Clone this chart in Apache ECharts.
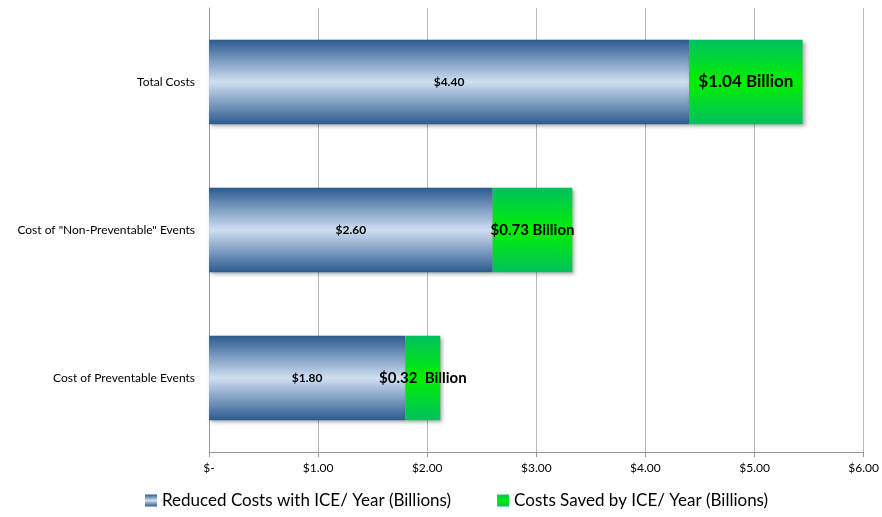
<!DOCTYPE html>
<html>
<head>
<meta charset="utf-8">
<script src="https://cdn.jsdelivr.net/npm/echarts@6/dist/echarts.min.js"></script>
<style>
  html, body { margin: 0; padding: 0; background: #fff; }
  #chart { width: 882px; height: 517px; }
</style>
</head>
<body>
<div id="chart"></div>
<script>
// Categories, bottom to top
const categories = ['Cost of Preventable Events', 'Cost of "Non-Preventable" Events', 'Total Costs'];
// Remaining cost per year with ICE (billions)
const reducedCosts = [1.80, 2.60, 4.40];
// Savings per year from ICE (billions)
const savedCosts = [0.32, 0.73, 1.04];
const savedLabels = ['$0.32  Billion', '$0.73 Billion', '$1.04 Billion'];
const savedLabelSizes = [15, 15, 17];
const xTicks = ['$-', '$1.00', '$2.00', '$3.00', '$4.00', '$5.00', '$6.00'];

const FONT = 'Lato, "Open Sans", sans-serif';

const blueGrad = new echarts.graphic.LinearGradient(0, 0, 0, 1, [
  { offset: 0, color: '#2c5b90' },
  { offset: 0.5, color: '#cfdff2' },
  { offset: 1, color: '#2c5b90' }
]);
const greenGrad = new echarts.graphic.LinearGradient(0, 0, 0, 1, [
  { offset: 0, color: '#00c060' },
  { offset: 0.5, color: '#00f000' },
  { offset: 1, color: '#00c060' }
]);

const chart = echarts.init(document.getElementById('chart'));
chart.setOption({
  animation: false,
  grid: { left: 209, right: 18, top: 8, bottom: 65, containLabel: false },
  legend: {
    bottom: 3,
    left: 140,
    itemGap: 46,
    itemWidth: 12,
    itemHeight: 12,
    icon: 'rect',
    textStyle: { fontFamily: FONT, fontSize: 17, color: '#000' },
    data: ['Reduced Costs with ICE/ Year (Billions)', 'Costs Saved by ICE/ Year (Billions)']
  },
  xAxis: {
    type: 'value',
    min: 0,
    max: 6,
    interval: 1,
    axisLine: { show: true, lineStyle: { color: '#999' } },
    axisTick: { show: true, length: 5, lineStyle: { color: '#999' } },
    splitLine: { show: true, lineStyle: { color: '#b8b8b8', width: 1 } },
    axisLabel: {
      fontFamily: FONT, fontSize: 12, color: '#000', margin: 10,
      formatter: (v) => xTicks[Math.round(v)]
    }
  },
  yAxis: {
    type: 'category',
    data: categories,
    axisLine: { show: true, lineStyle: { color: '#999' } },
    axisTick: { show: false },
    axisLabel: { fontFamily: FONT, fontSize: 12, color: '#000', margin: 14 }
  },
  series: [
    {
      name: 'Reduced Costs with ICE/ Year (Billions)',
      type: 'bar',
      stack: 'cost',
      barWidth: '57%',
      data: reducedCosts,
      itemStyle: {
        color: blueGrad,
        shadowBlur: 4, shadowColor: 'rgba(0,0,0,0.35)', shadowOffsetX: 2, shadowOffsetY: 2
      },
      label: {
        show: true, position: 'inside',
        fontFamily: FONT, fontSize: 12, fontWeight: 'bold', color: '#000',
        formatter: (p) => '$' + p.value.toFixed(2)
      }
    },
    {
      name: 'Costs Saved by ICE/ Year (Billions)',
      type: 'bar',
      stack: 'cost',
      barWidth: '57%',
      data: savedCosts.map((v, i) => ({
        value: v,
        label: { fontSize: savedLabelSizes[i] }
      })),
      itemStyle: {
        color: greenGrad,
        shadowBlur: 4, shadowColor: 'rgba(0,0,0,0.35)', shadowOffsetX: 2, shadowOffsetY: 2
      },
      label: {
        show: true, position: 'inside',
        fontFamily: FONT, fontWeight: 'bold', color: '#000',
        formatter: (p) => savedLabels[p.dataIndex]
      }
    }
  ]
});
</script>
</body>
</html>
